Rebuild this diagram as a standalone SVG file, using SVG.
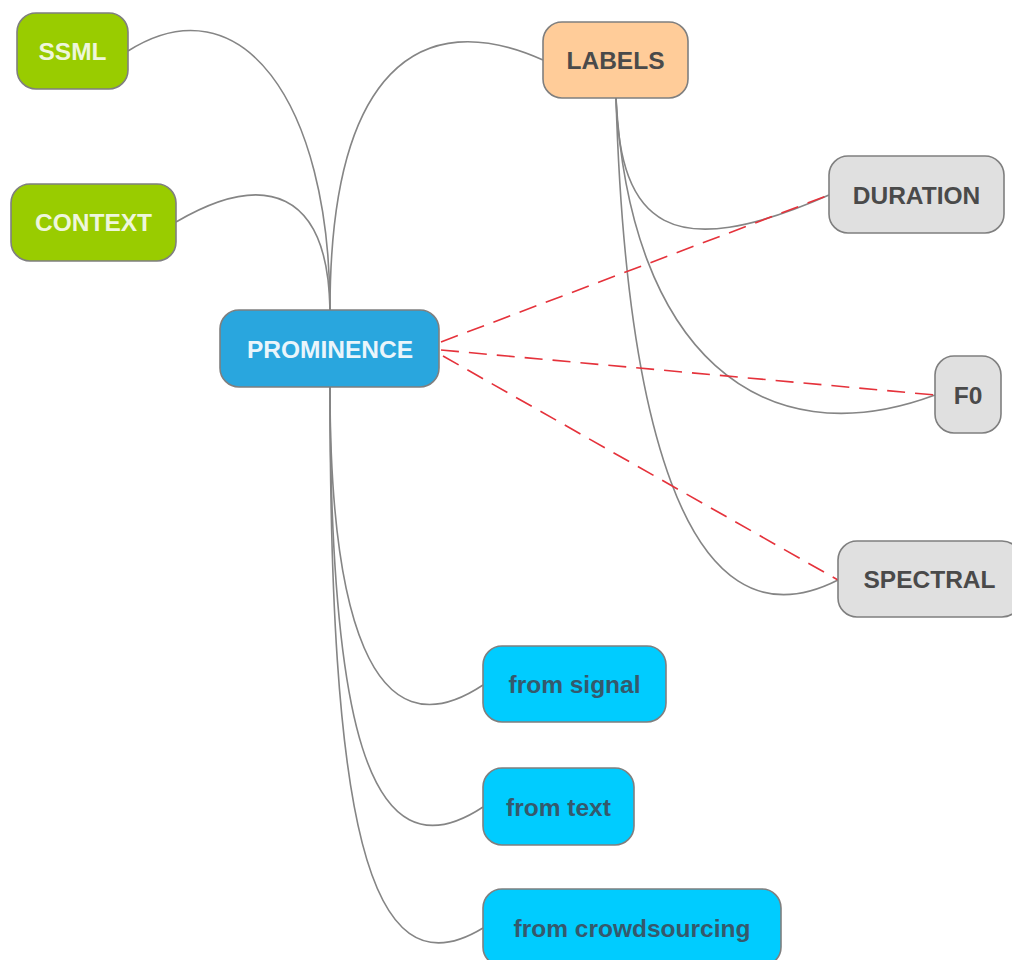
<svg xmlns="http://www.w3.org/2000/svg" width="1012" height="960" viewBox="0 0 1012 960">
<style>
.n rect{stroke:#7f7f7f;stroke-width:1.6}
.n text{font-family:"Liberation Sans",Arial,sans-serif;font-weight:bold;font-size:24.5px;text-anchor:middle}
.g rect{fill:#99cc00}.g text{fill:#eef6dc}
.b rect{fill:#29a6de}.b text{fill:#eaf5fb}
.o rect{fill:#ffcc99}.o text{fill:#4a4a4a}
.y rect{fill:#e0e0e0}.y text{fill:#4a4a4a}
.c rect{fill:#00ccff}.c text{fill:#35596c}
.e path{fill:none;stroke:#858585;stroke-width:1.6}
.e path.d{stroke:#e5323b;stroke-dasharray:18 10;stroke-width:1.6}
</style>
<rect width="1012" height="960" fill="#fff"/>
<g id="connectors" class="e">
<path d="M128 51 C240 -20 330 100 330 310"/>
<path d="M176 222 C265 170 328 190 330 310"/>
<path d="M543 60 C420 5 330 70 330 310"/>
<path d="M330 387 C330 610 370 760 483 685"/>
<path d="M330 387 C330 710 365 885 483 807"/>
<path d="M330 387 C330 810 365 1000 483 928"/>
<path d="M616 98 C620 225 670 265 829 195"/>
<path d="M616 98 C630 350 760 460 935 395"/>
<path d="M616 98 C625 400 680 660 838 580"/>
<path class="d" d="M441 342 L829 195"/>
<path class="d" d="M441 350 L935 395"/>
<path class="d" d="M443 356 L838 580"/>
</g>
<g id="ssml" class="n g"><rect x="17" y="13" width="111" height="76" rx="19"/><text x="72.5" y="59.5">SSML</text></g>
<g id="context" class="n g"><rect x="11" y="184" width="165" height="77" rx="19"/><text x="93.5" y="231">CONTEXT</text></g>
<g id="prominence" class="n b"><rect x="220" y="310" width="219" height="77" rx="19"/><text x="330" y="357.5">PROMINENCE</text></g>
<g id="labels" class="n o"><rect x="543" y="22" width="145" height="76" rx="19"/><text x="615.5" y="69">LABELS</text></g>
<g id="duration" class="n y"><rect x="829" y="156" width="175" height="77" rx="19"/><text x="916.5" y="203.5">DURATION</text></g>
<g id="f0" class="n y"><rect x="935" y="356" width="66" height="77" rx="19"/><text x="968" y="403.5">F0</text></g>
<g id="spectral" class="n y"><rect x="838" y="541" width="183" height="76" rx="19"/><text x="929.5" y="588">SPECTRAL</text></g>
<g id="from-signal" class="n c"><rect x="483" y="646" width="183" height="76" rx="19"/><text x="574.5" y="693">from signal</text></g>
<g id="from-text" class="n c"><rect x="483" y="768" width="151" height="77" rx="19"/><text x="558.5" y="815.5">from text</text></g>
<g id="from-crowdsourcing" class="n c"><rect x="483" y="889" width="298" height="77" rx="19"/><text x="632" y="936.5">from crowdsourcing</text></g>
</svg>
